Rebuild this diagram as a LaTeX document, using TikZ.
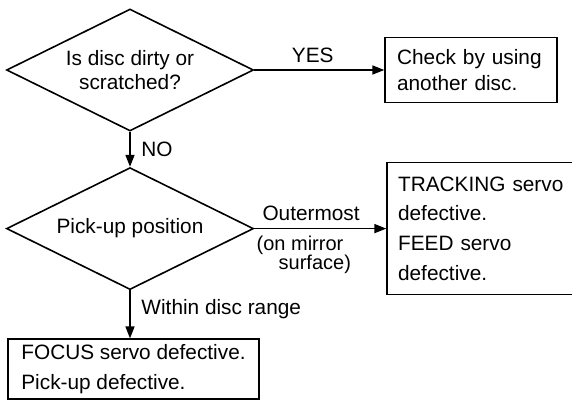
\documentclass[tikz,border=0pt]{standalone}
\usepackage{fontspec}
\setmainfont{Liberation Sans}
\usetikzlibrary{arrows.meta,shapes.geometric,positioning}

\begin{document}
\begin{tikzpicture}[x=0.5pt,y=-0.5pt,->,>={Triangle[length=6pt,width=4.5pt]},
  line width=0.8pt,font=\fontsize{10.4}{12}\selectfont,
  decision/.style={diamond,draw,aspect=2,inner sep=0pt,minimum width=123.5pt,
    minimum height=61pt,align=center},
  result/.style={rectangle,draw,align=left,inner ysep=0pt}]
    \useasboundingbox (0,0) rectangle (572,401);
    \node[decision] (dirty) at (130,70) {Is disc dirty or\\scratched?};
    \node[decision] (pick) [below = 17.5pt of dirty] {Pick-up position};
    \node[result,text width=74pt,inner xsep=6pt,minimum height=32.5pt,
      font=\fontsize{10.4}{13}\selectfont] (check) [right = 65pt of dirty]
      {Check by using\\another disc.};
    \node[result,text width=84.5pt,inner xsep=5.5pt,minimum height=66pt,
      font=\fontsize{10.4}{14.8}\selectfont] (track) [right = 66pt of pick]
      {TRACKING servo\\defective.\\FEED servo\\defective.};
    \node[result,minimum width=125.5pt,minimum height=30pt,
      font=\fontsize{10.4}{15}\selectfont] (focus) [below = 24pt of pick, xshift=1.75pt]
      {FOCUS servo defective.\\Pick-up defective.};
    \path (dirty) edge node[above,pos=.45] {YES} (check)
    (dirty) edge node[right=2pt] {NO} (pick)
    (pick) edge node[above,pos=.43] {Outermost}
      node[below,pos=.375,align=left,font=\fontsize{10}{9.5}\selectfont]
      {(on mirror\\\hspace*{11pt}surface)} (track)
    (pick) edge node[right=2pt,pos=.4] {Within disc range} (focus.north -| pick.south);
\end{tikzpicture}
\end{document}
